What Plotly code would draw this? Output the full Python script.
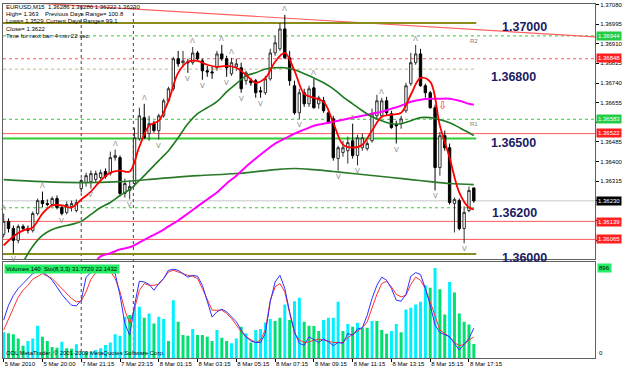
import plotly.graph_objects as go

# ---------------- data ----------------
bars = list(range(98))
opens = [1.36085,1.36141,1.36110,1.36059,1.36119,1.36110,1.36102,1.36175,1.36231,1.36218,
         1.36214,1.36240,1.36201,1.36180,1.36206,1.36188,1.36283,1.36309,1.36313,1.36322,
         1.36331,1.36357,1.36348,1.36417,1.36417,1.36262,1.36275,1.36305,1.36499,1.36590,
         1.36521,1.36564,1.36534,1.36598,1.36663,1.36715,1.36845,1.36828,1.36832,1.36828,
         1.36870,1.36836,1.36793,1.36788,1.36806,1.36866,1.36845,1.36780,1.36810,1.36806,
         1.36750,1.36750,1.36750,1.36706,1.36698,1.36758,1.36870,1.36888,1.36974,1.36849,
         1.36728,1.36611,1.36698,1.36650,1.36719,1.36650,1.36663,1.36611,1.36585,1.36413,
         1.36439,1.36447,1.36490,1.36426,1.36460,1.36456,1.36490,1.36598,1.36598,1.36663,
         1.36607,1.36560,1.36564,1.36620,1.36737,1.36828,1.36866,1.36728,1.36698,1.36633,
         1.36374,1.36512,1.36460,1.36218,1.36231,1.36110,1.36188,1.36286]
highs = [1.36175,1.36154,1.36123,1.36128,1.36128,1.36123,1.36184,1.36240,1.36270,1.36236,
         1.36249,1.36253,1.36210,1.36227,1.36231,1.36236,1.36326,1.36352,1.36361,1.36361,
         1.36365,1.36370,1.36443,1.36452,1.36426,1.36326,1.36318,1.36547,1.36633,1.36650,
         1.36598,1.36577,1.36607,1.36672,1.36724,1.36853,1.36879,1.36879,1.36845,1.36896,
         1.36879,1.36845,1.36814,1.36810,1.36879,1.36905,1.36858,1.36849,1.36845,1.36828,
         1.36793,1.36762,1.36758,1.36724,1.36771,1.36888,1.36944,1.37000,1.37035,1.36879,
         1.36750,1.36715,1.36715,1.36728,1.36758,1.36685,1.36680,1.36629,1.36598,1.36469,
         1.36490,1.36508,1.36564,1.36516,1.36521,1.36490,1.36629,1.36689,1.36676,1.36680,
         1.36620,1.36577,1.36598,1.36741,1.36870,1.36905,1.36888,1.36737,1.36706,1.36646,
         1.36529,1.36534,1.36478,1.36244,1.36240,1.36206,1.36292,1.36286]
lows = [1.36072,1.36093,1.36003,1.36046,1.36097,1.36089,1.36093,1.36167,1.36201,1.36206,
        1.36206,1.36193,1.36167,1.36171,1.36184,1.36180,1.36266,1.36292,1.36283,1.36309,
        1.36322,1.36326,1.36339,1.36404,1.36249,1.36244,1.36236,1.36292,1.36490,1.36499,
        1.36490,1.36525,1.36495,1.36590,1.36655,1.36706,1.36810,1.36810,1.36784,1.36819,
        1.36836,1.36754,1.36767,1.36758,1.36793,1.36836,1.36767,1.36771,1.36793,1.36698,
        1.36732,1.36728,1.36676,1.36676,1.36689,1.36750,1.36858,1.36879,1.36845,1.36728,
        1.36603,1.36585,1.36637,1.36637,1.36629,1.36629,1.36611,1.36564,1.36404,1.36361,
        1.36421,1.36391,1.36413,1.36383,1.36447,1.36447,1.36482,1.36585,1.36590,1.36598,
        1.36542,1.36478,1.36542,1.36611,1.36728,1.36819,1.36724,1.36676,1.36629,1.36275,
        1.36339,1.36447,1.36214,1.36093,1.36102,1.36046,1.36180,1.36222]
closes = [1.36141,1.36110,1.36059,1.36119,1.36110,1.36102,1.36175,1.36231,1.36218,1.36214,
          1.36240,1.36201,1.36175,1.36214,1.36218,1.36223,1.36318,1.36339,1.36348,1.36348,
          1.36352,1.36335,1.36417,1.36426,1.36262,1.36305,1.36292,1.36503,1.36598,1.36503,
          1.36564,1.36534,1.36598,1.36663,1.36715,1.36845,1.36823,1.36836,1.36828,1.36870,
          1.36845,1.36793,1.36788,1.36784,1.36866,1.36845,1.36806,1.36828,1.36823,1.36715,
          1.36784,1.36741,1.36698,1.36702,1.36758,1.36870,1.36914,1.36974,1.36849,1.36750,
          1.36611,1.36698,1.36650,1.36715,1.36633,1.36676,1.36620,1.36568,1.36417,1.36460,
          1.36460,1.36482,1.36426,1.36503,1.36503,1.36478,1.36607,1.36663,1.36663,1.36611,
          1.36547,1.36555,1.36585,1.36728,1.36828,1.36866,1.36728,1.36698,1.36633,1.36374,
          1.36512,1.36460,1.36223,1.36236,1.36110,1.36180,1.36275,1.36230]

volumes = [255,245,235,195,122,169,195,321,212,169,
           109,102,162,96,92,136,63,63,63,79,
           96,129,155,235,222,410,427,509,509,400,
           443,344,410,387,169,575,360,228,222,288,
           228,228,212,169,278,202,169,146,195,311,
           245,155,278,288,354,387,367,400,532,377,
           565,598,360,321,317,268,377,400,400,559,
           268,337,311,350,301,301,367,367,278,241,
           268,337,255,483,499,532,559,724,698,896,
           684,433,757,651,443,360,334,140]
vol_dir = list("cgggg"+"cccgg"+"ggcgg"+"ccgcc"+"ccccc"+"cgccg"+"cgccg"+"cgggc"+"ggggc"+"ggccg"
               +"cgccc"+"cggcg"+"ccggg"+"gcccc"+"gcgcg"+"gcggg"+"ccgcc"+"cccgc"+"ggcgg"+"ggg")

stoch_main = [40.7,57,68,75.5,81,86.5,92,94.5,93.7,90,
              84.6,77,69,62.6,57,56.4,62.6,88,93,94.5,
              95,95,94.5,92,68,37,24,57,83.5,82.7,
              80,73.6,81,86.5,95.6,96.7,95.6,92,88,90,
              89,79,60.8,44,49.8,52.7,49.8,44,38.8,29.7,
              22.3,17.6,16,16,26,60.8,82.7,90,75.5,49.8,
              27.8,15,13,22.3,18.7,16,19.8,16.8,12.4,16,
              15,26,24,30.8,32.2,46,64.5,79,88,84.6,
              75.5,62.6,61.5,69,89,93,91,75.5,57,35.2,
              27,25,22.3,15,7.7,14,20.5,31.77]
stoch_signal = [29.7,42.5,55,66,73.6,79,85.7,89,92,89,
                86.5,81,75.5,69,64.5,60.8,61.5,71.8,85.7,93,
                94.8,94.8,94.5,86.5,71.8,51.6,37,53.5,73.6,81,
                79,79,80,86.5,93.7,95.6,93.7,92,90,89,
                86.5,75.5,62.6,51.6,51.6,51.6,48,42.5,35.2,27.8,
                22.3,18.7,16,18.7,30,62.6,77.3,81,71.8,48,
                26,18.7,16,16.8,18.7,19.8,18.7,17.6,16,16,
                16,21.2,25,28.6,32.2,38.8,53.5,69,81,83.5,
                77.3,69,66.3,68,80,88,84.6,75.5,60.8,44.3,
                29.7,26,22.3,16,12.4,14,18.7,22.14]

ma_red_x = list(range(0, 97, 2)) + [97]
ma_red_y = [1.36037,1.36076,1.36102,1.36115,1.36175,1.36210,1.36210,1.36201,1.36236,1.36270,
            1.36318,1.36352,1.36361,1.36357,1.36465,1.36555,1.36577,1.36663,1.36784,1.36832,
            1.36836,1.36819,1.36810,1.36814,1.36806,1.36775,1.36741,1.36762,1.36832,1.36870,
            1.36793,1.36693,1.36676,1.36659,1.36568,1.36473,1.36460,1.36473,1.36534,1.36594,
            1.36603,1.36611,1.36689,1.36762,1.36745,1.36555,1.36417,1.36266,1.36201,1.36193]
ma_green_x = list(range(4, 97, 2)) + [97]
ma_green_y = [1.35964,1.36033,1.36080,1.36106,1.36119,1.36128,1.36141,1.36171,1.36201,1.36223,
              1.36253,1.36279,1.36318,1.36361,1.36404,1.36447,1.36503,1.36564,1.36607,1.36633,
              1.36659,1.36702,1.36737,1.36771,1.36784,1.36801,1.36806,1.36806,1.36797,1.36780,
              1.36762,1.36741,1.36715,1.36680,1.36650,1.36620,1.36594,1.36577,1.36564,1.36564,
              1.36577,1.36590,1.36590,1.36581,1.36568,1.36547,1.36525,1.36512]
ma_slow_x = [0,8,16,24,32,40,48,56,60,64,68,72,80,84,88,92,97]
ma_slow_y = [1.36322,1.36313,1.36309,1.36313,1.36326,1.36339,1.36348,1.36365,1.36370,1.36365,
             1.36357,1.36348,1.36331,1.36322,1.36313,1.36305,1.36300]
ma_mag_x = [19,20] + list(range(22, 97, 2)) + [97]
ma_mag_y = [1.35968,1.35990,1.36003,1.36020,1.36029,1.36050,1.36072,1.36093,1.36119,1.36145,
            1.36175,1.36206,1.36236,1.36266,1.36305,1.36339,1.36378,1.36413,1.36447,1.36478,
            1.36499,1.36521,1.36538,1.36555,1.36564,1.36572,1.36581,1.36590,1.36598,1.36607,
            1.36616,1.36629,1.36642,1.36659,1.36668,1.36672,1.36672,1.36672,1.36663,1.36650,
            1.36646]

fractal_up = [0,8,23,29,39,45,47,58,64,72,78,85]
fractal_dn = [2,12,18,26,32,38,41,46,49,53,61,69,73,81,89,95]

trend_x = [-0.6, 122.0]
trend_y = [1.37095, 1.36940]

round_levels = [1.37000, 1.36800, 1.36500, 1.36200, 1.36000]
round_labels = ["1.37000", "1.36800", "1.36500", "1.36200", "1.36000"]
round_label_bar = [102.4, 100.2, 100.2, 100.4, 102.4]
round_label_shift = [5, 1, 4, 4, 5]
round_styles = [("#8B8B1A", "solid", 2), ("#C8B482", "dot", 1), ("#33CC33", "solid", 2),
                ("#33CC33", "dot", 1), ("#8B8B1A", "solid", 2)]
full_levels = [1.36944, 1.36845, 1.36583, 1.36521, 1.36230, 1.36141, 1.36063]
full_styles = [("#33CC33", "dot"), ("#FF5A5A", "dot"), ("#33CC33", "dot"), ("#FF5A5A", "solid"),
               ("#C8C8C8", "solid"), ("#FF5A5A", "solid"), ("#FF5A5A", "solid")]
box_prices = [1.36944, 1.36848, 1.36583, 1.36522, 1.36230, 1.36139, 1.36065]
box_colors = ["#22CC44", "#FF2020", "#22CC44", "#FF2020", "#000000", "#FF2020", "#FF2020"]
pivot_names = ["R2", "R1"]
pivot_levels = [1.36944, 1.36583]

price_ticks = [1.37080,1.36995,1.36910,1.36825,1.36740,1.36655,1.36570,1.36485,1.36400,
               1.36315,1.36230,1.36145,1.36060,1.35975]
hidden_ticks = [1.36570, 1.36230, 1.36145, 1.36060]   # covered by the price boxes
time_ticks = list(range(0, 97, 8))
time_labels = ["5 Mar 2010","5 Mar 20:00","7 Mar 21:15","7 Mar 23:15","8 Mar 01:15",
               "8 Mar 03:15","8 Mar 05:15","8 Mar 07:15","8 Mar 09:15","8 Mar 11:15",
               "8 Mar 13:15","8 Mar 15:15","8 Mar 17:15"]
separators = [16, 26.75]
signal_arrow = (90.5, 1.36642)

header = ["EURUSD,M15  1.36286 1.36286 1.36222 1.36230",
          "High= 1.363", "Previous Days Range= 100.8",
          "Lows= 1.3529", "Current Days Range= 99.1",
          "Close= 1.3622", "Time for next bar: 4 min 22 sec."]

# ---------------- layout geometry ----------------
W, H = 625, 370
ML, MR, MT, MB = 2, 22, 3, 12
PW, PH = W - ML - MR, H - MT - MB
def pxx(px): return (px - ML) / PW
def pxy(py): return (H - MB - py) / PH

FONT = "Liberation Sans"
XR = [-0.14, 122.0]

fig = go.Figure()
fig.add_trace(go.Candlestick(
    x=bars, open=opens, high=highs, low=lows, close=closes,
    increasing=dict(line=dict(color="#303030", width=1), fillcolor="#FFFFFF"),
    decreasing=dict(line=dict(color="#000000", width=1), fillcolor="#000000"),
    whiskerwidth=0, xaxis="x", yaxis="y", showlegend=False, hoverinfo="skip"))

fig.add_trace(go.Scatter(x=ma_slow_x, y=ma_slow_y, mode="lines", line=dict(color="#2A7A2A", width=1.6, shape="spline"),
                         xaxis="x", yaxis="y", showlegend=False, hoverinfo="skip"))
fig.add_trace(go.Scatter(x=ma_mag_x, y=ma_mag_y, mode="lines", line=dict(color="#FF00FF", width=2, shape="spline"),
                         xaxis="x", yaxis="y", showlegend=False, hoverinfo="skip"))
fig.add_trace(go.Scatter(x=ma_green_x, y=ma_green_y, mode="lines", line=dict(color="#1E7A1E", width=1.6, shape="spline"),
                         xaxis="x", yaxis="y", showlegend=False, hoverinfo="skip"))
fig.add_trace(go.Scatter(x=ma_red_x, y=ma_red_y, mode="lines", line=dict(color="#FF0000", width=1.8, shape="spline"),
                         xaxis="x", yaxis="y", showlegend=False, hoverinfo="skip"))

vcol = {"c": "#00F0FF", "g": "#00E070"}
fig.add_trace(go.Bar(x=bars, y=volumes, marker=dict(color=[vcol[d] for d in vol_dir], line=dict(width=0)),
                     width=0.62, xaxis="x2", yaxis="y2", showlegend=False, hoverinfo="skip"))
fig.add_trace(go.Scatter(x=bars, y=stoch_signal, mode="lines", line=dict(color="#FF3030", width=1),
                         xaxis="x2", yaxis="y3", showlegend=False, hoverinfo="skip"))
fig.add_trace(go.Scatter(x=bars, y=stoch_main, mode="lines", line=dict(color="#3030FF", width=1),
                         xaxis="x2", yaxis="y3", showlegend=False, hoverinfo="skip"))

shapes = []
shapes.append(dict(type="line", xref="x", yref="y", x0=trend_x[0], y0=trend_y[0], x1=trend_x[1], y1=trend_y[1],
                   line=dict(color="#FF6060", width=1.2), layer="below"))
for lv, (c, d) in zip(full_levels, full_styles):
    shapes.append(dict(type="line", xref="paper", yref="y", x0=0, x1=1, y0=lv, y1=lv,
                       line=dict(color=c, width=1, dash=d), layer="below"))
for lv, (c, d, w) in zip(round_levels, round_styles):
    shapes.append(dict(type="line", xref="x", yref="y", x0=XR[0], x1=97.5, y0=lv, y1=lv,
                       line=dict(color=c, width=w, dash=d), layer="below"))
for s in separators:
    shapes.append(dict(type="line", xref="x", yref="paper", x0=s, x1=s, y0=0, y1=1,
                       line=dict(color="#404040", width=1, dash="dot"), layer="below"))

ann = []
small = dict(family=FONT, size=6, color="#000000")
def txt(px, py, s, **kw):
    d = dict(xref="paper", yref="paper", x=pxx(px), y=pxy(py), text=s, xanchor="left", yanchor="middle",
             showarrow=False, font=small)
    d.update(kw)
    ann.append(d)
# header
txt(3, 6.5, header[0])
txt(3, 13.5, header[1]); txt(43, 13.5, header[2])
txt(3, 20.5, header[3]); txt(44, 20.5, header[4])
txt(3, 28, header[5])
txt(3, 35, header[6])
# round level labels
for lv, lb, xb, sh in zip(round_levels, round_labels, round_label_bar, round_label_shift):
    ann.append(dict(xref="x", yref="y", x=xb, y=lv, text="<b>" + lb + "</b>", xanchor="left", yanchor="top",
                    yshift=sh, showarrow=False, font=dict(family=FONT, size=12.5, color="#1C1C64")))
# pivot names
for nm, lv in zip(pivot_names, pivot_levels):
    ann.append(dict(xref="x", yref="y", x=95.8, y=lv, text=nm, xanchor="left", yanchor="top", yshift=0,
                    showarrow=False, font=dict(family=FONT, size=6, color="#808080")))
# price boxes
for p, c in zip(box_prices, box_colors):
    ann.append(dict(xref="paper", yref="y", x=1, y=p, xshift=1, text="%.5f" % p, xanchor="left", yanchor="middle",
                    showarrow=False, bgcolor=c, borderpad=1, font=dict(family=FONT, size=6, color="#FFFFFF")))
# fractals
for i in fractal_up:
    ann.append(dict(xref="x", yref="y", x=i, y=highs[i], text="Λ", xanchor="center", yanchor="bottom", yshift=0,
                    showarrow=False, font=dict(family="DejaVu Sans", size=7, color="#8A8A8A")))
for i in fractal_dn:
    ann.append(dict(xref="x", yref="y", x=i, y=lows[i], text="V", xanchor="center", yanchor="top", yshift=0,
                    showarrow=False, font=dict(family="DejaVu Sans", size=7, color="#8A8A8A")))
ann.append(dict(xref="x", yref="y", x=signal_arrow[0], y=signal_arrow[1], text="⇩", showarrow=False,
                font=dict(family="DejaVu Sans", size=11, color="#FF3030")))
# lower panel
txt(3, 268.5, "Volumes 140  Sto(8,3,3) 31.7720 22.1432", bgcolor="#22EE66", borderpad=1)
txt(3, 353, "ODL MetaTrader, © 2001-2009 MetaQuotes Software Corp.")
ann.append(dict(xref="paper", yref="y2", x=1, y=896, xshift=2, xanchor="left", yanchor="middle", text="896",
                showarrow=False, bgcolor="#22EE66", borderpad=1, font=small))
ann.append(dict(xref="paper", yref="y2", x=1, y=0, xshift=2, xanchor="left", yanchor="bottom", text="0",
                showarrow=False, font=small))

axline = dict(showline=True, mirror=True, linecolor="#606060", linewidth=1, showgrid=False, zeroline=False)
fig.update_layout(
    width=W, height=H, margin=dict(l=ML, r=MR, t=MT, b=MB, pad=0),
    paper_bgcolor="#FFFFFF", plot_bgcolor="#FFFFFF", showlegend=False,
    xaxis=dict(domain=[0, 1], range=XR, anchor="y", showticklabels=False, ticks="", rangeslider=dict(visible=False), **axline),
    xaxis2=dict(domain=[0, 1], range=XR, anchor="y2", matches="x", tickmode="array", tickvals=time_ticks, ticktext=time_labels,
                tickangle=0, ticks="outside", ticklen=3, tickcolor="#000000", ticklabelposition="outside right",
                tickfont=dict(family=FONT, size=6, color="#000000"), **axline),
    yaxis=dict(domain=[pxy(259), 1], range=[1.35977, 1.37082], side="right", anchor="x", tickmode="array",
               tickvals=price_ticks, ticktext=["" if v in hidden_ticks else "%.5f" % v for v in price_ticks],
               ticks="outside", ticklen=3, tickcolor="#000000", tickfont=dict(family=FONT, size=6, color="#000000"), **axline),
    yaxis2=dict(domain=[0, pxy(262)], range=[0, 952], side="right", anchor="x2", showticklabels=False, ticks="", **axline),
    yaxis3=dict(overlaying="y2", range=[-1.1, 104.4], visible=False, anchor="x2"),
    shapes=shapes, annotations=ann,
)
fig.write_html("out.html")
